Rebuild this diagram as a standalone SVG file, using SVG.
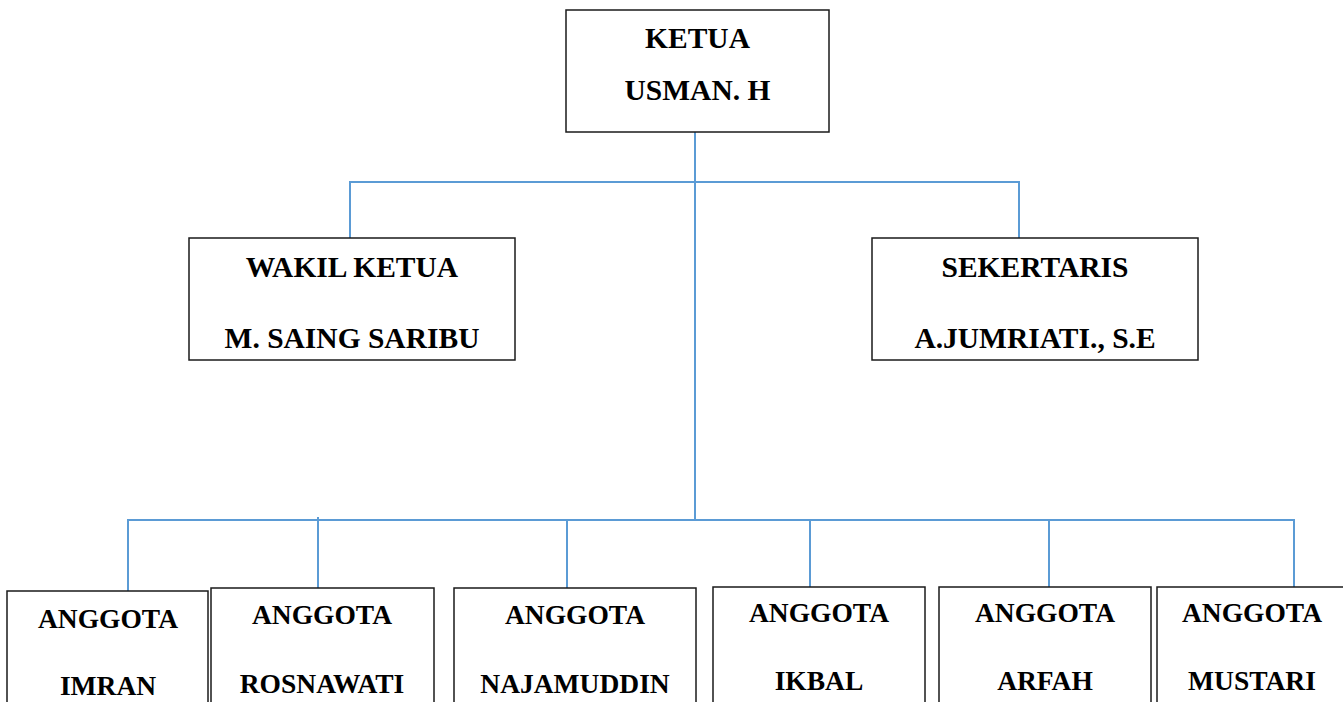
<svg xmlns="http://www.w3.org/2000/svg" width="1343" height="702" viewBox="0 0 1343 702">
<style>
.box{fill:#fff;stroke:#1a1a1a;stroke-width:1.5}
.t{font-family:"Liberation Serif","Times New Roman",serif;font-weight:bold;text-anchor:middle;fill:#000}
.t1{font-size:29.5px}
.t2{font-size:27.5px}
.c{stroke:#5B9BD5;stroke-width:2;fill:none}
</style>
<rect width="1343" height="702" fill="#fff"/>
<g id="connectors">
<line class="c" x1="695" y1="132" x2="695" y2="520"/>
<line class="c" x1="350" y1="182" x2="1019" y2="182"/>
<line class="c" x1="350" y1="181" x2="350" y2="238"/>
<line class="c" x1="1019" y1="181" x2="1019" y2="238"/>
<line class="c" x1="128" y1="520" x2="1294" y2="520"/>
<line class="c" x1="128" y1="519" x2="128" y2="591"/>
<line class="c" x1="318" y1="517" x2="318" y2="588"/>
<line class="c" x1="567" y1="520" x2="567" y2="588"/>
<line class="c" x1="810" y1="520" x2="810" y2="587"/>
<line class="c" x1="1049" y1="520" x2="1049" y2="587"/>
<line class="c" x1="1294" y1="519" x2="1294" y2="587"/>
</g>
<g id="ketua">
<rect class="box" x="566" y="10" width="263" height="122"/>
<text class="t t1" x="697.5" y="48">KETUA</text>
<text class="t t1" x="697.5" y="100">USMAN. H</text>
</g>
<g id="wakil">
<rect class="box" x="189" y="238" width="326" height="122"/>
<text class="t t1" x="352" y="277">WAKIL KETUA</text>
<text class="t t1" x="352" y="348">M. SAING SARIBU</text>
</g>
<g id="sekertaris">
<rect class="box" x="872" y="238" width="326" height="122"/>
<text class="t t1" x="1035" y="277">SEKERTARIS</text>
<text class="t t1" x="1035" y="348">A.JUMRIATI., S.E</text>
</g>
<g id="imran">
<rect class="box" x="7" y="591" width="201" height="130"/>
<text class="t t2" x="108" y="628">ANGGOTA</text>
<text class="t t2" x="108" y="695">IMRAN</text>
</g>
<g id="rosnawati">
<rect class="box" x="211" y="588" width="223" height="130"/>
<text class="t t2" x="322" y="624">ANGGOTA</text>
<text class="t t2" x="322" y="693">ROSNAWATI</text>
</g>
<g id="najamuddin">
<rect class="box" x="454" y="588" width="242" height="130"/>
<text class="t t2" x="575" y="624">ANGGOTA</text>
<text class="t t2" x="575" y="693">NAJAMUDDIN</text>
</g>
<g id="ikbal">
<rect class="box" x="713" y="587" width="212" height="130"/>
<text class="t t2" x="819" y="622">ANGGOTA</text>
<text class="t t2" x="819" y="690">IKBAL</text>
</g>
<g id="arfah">
<rect class="box" x="939" y="587" width="212" height="130"/>
<text class="t t2" x="1045" y="622">ANGGOTA</text>
<text class="t t2" x="1045" y="690">ARFAH</text>
</g>
<g id="mustari">
<rect class="box" x="1157" y="587" width="190" height="130"/>
<text class="t t2" x="1252" y="622">ANGGOTA</text>
<text class="t t2" x="1252" y="690">MUSTARI</text>
</g>
</svg>
